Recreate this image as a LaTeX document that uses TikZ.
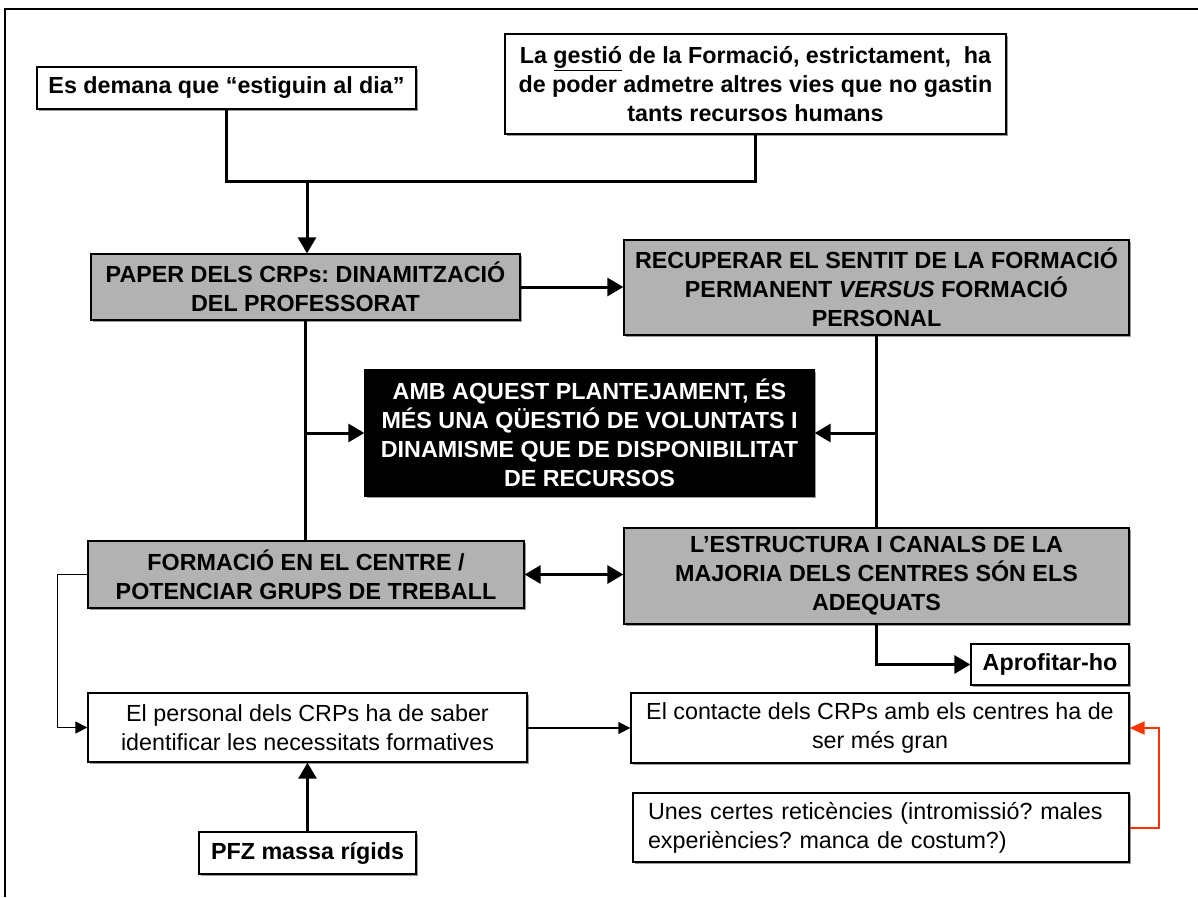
\documentclass[tikz,border=0pt]{standalone}
\usepackage{fontspec}
\setmainfont{Liberation Sans}
\usepackage{xcolor}
\usetikzlibrary{arrows.meta, shadows}
\definecolor{boxgray}{HTML}{B2B2B2}
\definecolor{linkred}{HTML}{FF3300}
\frenchspacing

\begin{document}
\begin{tikzpicture}[
        x=1pt, y=-1pt,
        every node/.style={font=\fontsize{23.3}{29}\selectfont, inner sep=2pt},
        box/.style={rectangle, draw, line width=1.3pt, fill=white, align=center, drop shadow={shadow xshift=2pt, shadow yshift=-2pt, fill=gray!80, opacity=1}},
        boldbox/.style={box, font=\fontsize{23.3}{29}\selectfont\bfseries},
        block/.style={boldbox, fill=boxgray},
        darkblock/.style={boldbox, fill=black, text=white},
        conn/.style={line width=3pt},
        arrow/.style={conn, -{Triangle[length=16pt, width=18pt]}},
        dblarrow/.style={conn, {Triangle[length=16pt, width=18pt]}-{Triangle[length=16pt, width=18pt]}},
        thinarrow/.style={line width=1.3pt, -{Triangle[length=12pt, width=12pt]}}
    ]
        \useasboundingbox (0,0) rectangle (1198,897);
        \draw[line width=2.5pt] (5,897) -- (5,9) -- (1198,9);

        \node[boldbox, minimum width=379pt, minimum height=42pt] (demand) at (226.5,88) {Es demana que “estiguin al dia”};
        \node[boldbox, minimum width=501pt, minimum height=100pt] (gestio) at (755.5,84) {La \underline{gestió} de la Formació, estrictament,~ ha\\de poder admetre altres vies que no gastin\\tants recursos humans};
        \node[block, minimum width=429pt, minimum height=66pt] (paper) at (305.5,287) {PAPER DELS CRPs: DINAMITZACIÓ\\DEL PROFESSORAT};
        \node[block, minimum width=505pt, minimum height=95pt] (sentit) at (876.5,287.5) {RECUPERAR EL SENTIT DE LA FORMACIÓ\\PERMANENT \textit{VERSUS} FORMACIÓ\\PERSONAL};
        \node[darkblock, minimum width=449pt, minimum height=126pt] (voluntat) at (589.5,433) {AMB AQUEST PLANTEJAMENT, ÉS\\MÉS UNA QÜESTIÓ DE VOLUNTATS I\\DINAMISME QUE DE DISPONIBILITAT\\DE RECURSOS};
        \node[block, minimum width=436pt, minimum height=67pt] (centre) at (306,574.5) {FORMACIÓ EN EL CENTRE /\\POTENCIAR GRUPS DE TREBALL};
        \node[block, minimum width=505pt, minimum height=96pt] (estructura) at (876.5,576) {L’ESTRUCTURA I CANALS DE LA\\MAJORIA DELS CENTRES SÓN ELS\\ADEQUATS};
        \node[boldbox, minimum width=158pt, minimum height=41pt] (aprofitar) at (1050,664.5) {Aprofitar-ho};
        \node[box, minimum width=439pt, minimum height=69pt] (personal) at (307.5,727.5) {El personal dels CRPs ha de saber\\identificar les necessitats formatives};
        \node[box, minimum width=498pt, minimum height=70pt] (contacte) at (880,728) {El contacte dels CRPs amb els centres ha de\\ser més gran};
        \node[box, minimum width=496pt, minimum height=69pt, align=left, text width=466pt] (reticencia) at (881,827.5) {Unes certes reticències (intromissió? males\\experiències? manca de costum?)};
        \node[boldbox, minimum width=217pt, minimum height=42pt] (pfz) at (307.5,853) {PFZ massa rígids};

        % top joins
        \coordinate (join) at (307,181);
        \draw[conn] (demand.south) |- (gestio.south |- join) -- (gestio.south);
        \draw[arrow] (join) -- (join |- paper.north);
        \draw[arrow] (paper.east) -- (paper.east -| sentit.west);

        % middle
        \draw[conn] (paper.south) -- (paper.south |- centre.north);
        \draw[arrow] (paper.south |- voluntat.west) -- (voluntat.west);
        \draw[conn] (sentit.south) -- (sentit.south |- estructura.north);
        \draw[arrow] (sentit.south |- voluntat.east) -- (voluntat.east);
        \draw[dblarrow] (centre.east) -- (centre.east -| estructura.west);
        \draw[arrow] (estructura.south) |- (aprofitar.west);

        % bottom
        \draw[thinarrow] (centre.west) -- ++(-30,0) |- (personal.west);
        \draw[thinarrow] (personal.east |- contacte.west) -- (contacte.west);
        \draw[arrow] (pfz.north) -- (personal.south);
        \draw[thinarrow, linkred, line width=2pt, -{Triangle[length=15pt, width=13pt]}] (reticencia.east) -- ++(29,0) |- (contacte.east);
    \end{tikzpicture}
\end{document}
